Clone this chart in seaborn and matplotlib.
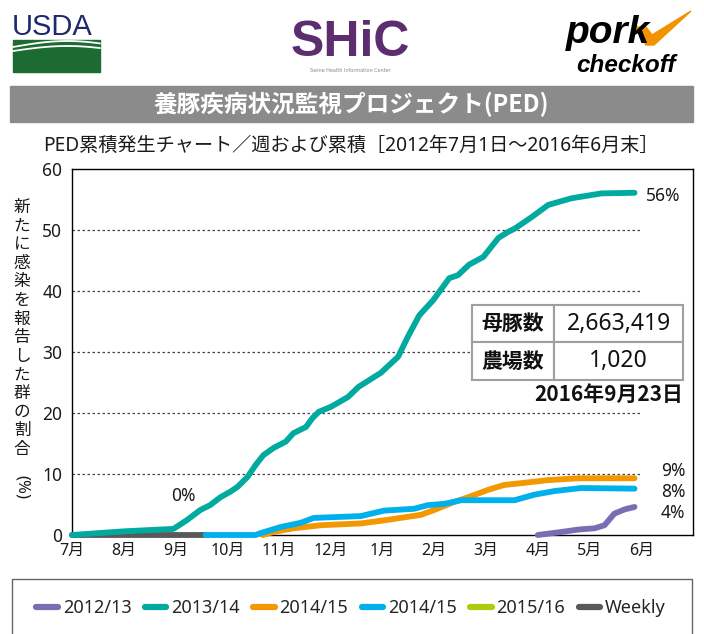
import matplotlib
matplotlib.use('Agg')
import matplotlib.pyplot as plt
from matplotlib import font_manager
from matplotlib.lines import Line2D
from matplotlib.patches import Rectangle, Polygon
import numpy as np
import pandas as pd
import seaborn as sb

sb.set_style('white')
plt.rcParams['font.family'] = ['Noto Sans', 'Noto Sans CJK JP', 'DejaVu Sans']
bold_fam = ['Noto Sans CJK JP', 'DejaVu Sans']

# x = months since 1 July (0 = 7月), y = % of herds
month_labels = ['7月', '8月', '9月', '10月', '11月', '12月', '1月', '2月', '3月', '4月', '5月', '6月']

x_1213 = [9.0, 9.46, 9.79, 10.1, 10.29, 10.48, 10.68, 10.87]
y_1213 = [0.0, 0.5, 0.9, 1.1, 1.6, 3.5, 4.2, 4.6]

x_1314 = [0.0, 1.0, 1.96, 2.23, 2.48, 2.67, 2.87, 3.06, 3.2, 3.39, 3.55, 3.7, 3.9, 4.13, 4.28,
          4.52, 4.65, 4.77, 5.0, 5.33, 5.54, 5.97, 6.3, 6.49, 6.71, 6.98, 7.29, 7.46, 7.67,
          7.95, 8.24, 8.43, 8.55, 8.88, 9.2, 9.65, 10.23, 10.87]
y_1314 = [0.0, 0.6, 1.0, 2.5, 4.1, 4.9, 6.2, 7.1, 7.9, 9.5, 11.5, 13.1, 14.3, 15.3, 16.7,
          17.7, 19.2, 20.2, 21.0, 22.6, 24.3, 26.6, 29.2, 32.5, 36.0, 38.5, 42.1, 42.6, 44.3,
          45.6, 48.7, 49.7, 50.2, 52.1, 54.1, 55.2, 56.0, 56.1]

x_1415a = [3.68, 3.9, 4.28, 4.81, 5.58, 6.03, 6.74, 7.0, 7.38, 7.66, 8.04, 8.35, 8.68, 9.2, 9.79, 10.87]
y_1415a = [0.0, 0.5, 1.1, 1.6, 1.9, 2.4, 3.3, 4.1, 5.4, 6.2, 7.4, 8.2, 8.5, 9.0, 9.3, 9.3]

x_1415b = [2.58, 3.55, 3.64, 4.03, 4.42, 4.67, 5.58, 6.03, 6.61, 6.88, 7.19, 7.52, 8.55, 8.93, 9.32, 9.84, 10.87]
y_1415b = [0.0, 0.0, 0.3, 1.3, 2.0, 2.8, 3.1, 4.0, 4.3, 4.9, 5.1, 5.7, 5.7, 6.6, 7.2, 7.7, 7.6]

x_weekly = [0.0, 2.55]
y_weekly = [0.0, 0.0]

legend_labels = ['2012/13', '2013/14', '2014/15', '2014/15', '2015/16', 'Weekly']
colors = ['#7b6cb3', '#00aa9f', '#f39800', '#00b0ec', '#b0cb0f', '#595959']

sow_count = '2,663,419'
farm_count = '1,020'
data_date = '2016年9月23日'

series = [
    ('Weekly', x_weekly, y_weekly, colors[5]),
    ('2012/13', x_1213, y_1213, colors[0]),
    ('2014/15a', x_1415a, y_1415a, colors[2]),
    ('2014/15b', x_1415b, y_1415b, colors[3]),
    ('2013/14', x_1314, y_1314, colors[1]),
]

fig = plt.figure(figsize=(7.04, 6.34), dpi=100)

# decoration layer in pixel coords
deco = fig.add_axes([0, 0, 1, 1], zorder=-1)
deco.set_xlim(0, 704)
deco.set_ylim(634, 0)
deco.axis('off')

narrow = 'Liberation Sans Narrow'
have_narrow = any(f.name == narrow for f in font_manager.fontManager.ttflist)
narrow_fam = [narrow, 'DejaVu Sans'] if have_narrow else ['Liberation Sans', 'DejaVu Sans']

# USDA logo
deco.text(12, 35, 'USDA', color='#1f2a6e', fontsize=26 if have_narrow else 21,
          family=narrow_fam, ha='left', va='baseline')
deco.add_patch(Rectangle((13, 40), 87, 32, color='#1c6b32'))
t = np.linspace(0, 1, 60)
for base, amp in [(47, 6), (51, 5)]:
    deco.plot(13 + 87 * t, base - amp * np.sin(t * np.pi * 0.8), color='white', lw=1.3)

# SHiC logo
deco.text(350, 56, 'SHiC', color='#5c2e70', fontsize=36, fontweight='bold',
          family=['Liberation Sans', 'DejaVu Sans'], ha='center', va='baseline')
deco.text(350, 70, 'Swine Health Information Center', color='#888888', fontsize=3.5,
          ha='center', va='center', family=['DejaVu Sans'])

# pork checkoff logo
deco.add_patch(Polygon([[635, 27], [646, 27], [652, 35], [691, 11], [654, 45], [646, 45]],
                       color='#f39200'))
deco.text(566, 43, 'pork', color='black', fontsize=28, fontweight='bold', fontstyle='italic',
          family=['Liberation Sans', 'DejaVu Sans'], ha='left', va='baseline')
deco.text(576, 72, 'checkoff', color='black', fontsize=17.5, fontweight='bold', fontstyle='italic',
          family=['Liberation Sans', 'DejaVu Sans'], ha='left', va='baseline')

# title band
deco.add_patch(Rectangle((10, 86), 683, 36, color='#8b8b8b'))
deco.text(351.5, 104, '養豚疾病状況監視プロジェクト(PED)', color='white', fontsize=17,
          fontweight='bold', family=bold_fam, ha='center', va='center')
deco.text(351, 146, 'PED累積発生チャート／週および累積［2012年7月1日～2016年6月末］',
          color='#1a1a1a', fontsize=13.8, ha='center', va='center')

# y label, written vertically
ylab = '新たに感染を報告した群の割合'
for i, ch in enumerate(ylab):
    deco.text(22, 208 + i * 18.6, ch, fontsize=12, ha='center', va='center', color='#1a1a1a')
deco.text(22, 487, '(%)', fontsize=12, rotation=270, ha='center', va='center', color='#1a1a1a')

# legend box
deco.add_patch(Rectangle((12, 579), 680, 70, fill=False, edgecolor='#666666', lw=1))

ax = fig.add_axes([72 / 704, 1 - 535 / 634, 621 / 704, 366 / 634])
ax.set_facecolor('none')

ax.hlines([10, 20, 30, 40, 50], 0, 11, colors='#444444', linestyles=(0, (2, 2)), lw=0.9, zorder=1)

for name, xs, ys, c in series:
    df = pd.DataFrame({'month': xs, 'pct': ys})
    sb.lineplot(data=df, x='month', y='pct', color=c, lw=4.2, sort=False, estimator=None,
                ax=ax, solid_capstyle='round', solid_joinstyle='round', clip_on=False, zorder=3)

ax.set_xlim(0, 12)
ax.set_ylim(0, 60)
ax.set_xticks(range(12))
ax.set_xticklabels(month_labels)
ax.set_yticks(range(0, 61, 10))
ax.tick_params(axis='x', direction='in', length=6, width=1, color='black', pad=6,
               labelsize=11.5, labelcolor='#1a1a1a')
ax.tick_params(axis='y', length=0, pad=7, labelsize=12.5, labelcolor='#1a1a1a')
ax.set_xlabel('')
ax.set_ylabel('')
for s in ax.spines.values():
    s.set_visible(True)
    s.set_color('black')
    s.set_linewidth(1)

# end labels
ax.text(11.1, 55.5, '56%', fontsize=12.5, ha='left', va='center', color='#1a1a1a')
ax.text(11.85, 10.5, '9%', fontsize=12.5, ha='right', va='center', color='#1a1a1a')
ax.text(11.85, 7.0, '8%', fontsize=12.5, ha='right', va='center', color='#1a1a1a')
ax.text(11.85, 3.6, '4%', fontsize=12.5, ha='right', va='center', color='#1a1a1a')
ax.text(2.15, 6.4, '0%', fontsize=12.5, ha='center', va='center', color='#1a1a1a')

# info table
tbl = ax.table(cellText=[['母豚数', sow_count], ['農場数', farm_count]],
               colWidths=[0.39, 0.61], cellLoc='center',
               bbox=[0.644, 0.4235, 0.340, 0.205])
tbl.auto_set_font_size(False)
tbl.set_zorder(5)
for (r, c), cell in tbl.get_celld().items():
    cell.set_edgecolor('#9f9f9f')
    cell.set_linewidth(1.5)
    cell.set_facecolor('white')
    cell.get_text().set_color('#111111')
    if c == 0:
        cell.get_text().set_fontweight('bold')
        cell.get_text().set_fontsize(15)
        cell.get_text().set_family(bold_fam)
    else:
        cell.get_text().set_fontsize(16.5)
ax.text(0.984, 0.385, data_date, transform=ax.transAxes, fontsize=15, fontweight='bold',
        family=bold_fam, ha='right', va='center', color='#111111')

handles = [Line2D([], [], color=c, lw=4.5, solid_capstyle='round') for c in colors]
fig.legend(handles, legend_labels, loc='center', bbox_to_anchor=(351 / 704, 1 - 608 / 634),
           ncol=6, frameon=False, handlelength=1.2, handletextpad=0.25, columnspacing=0.75,
           prop={'size': 13})

fig.savefig('out.png', dpi=100)
